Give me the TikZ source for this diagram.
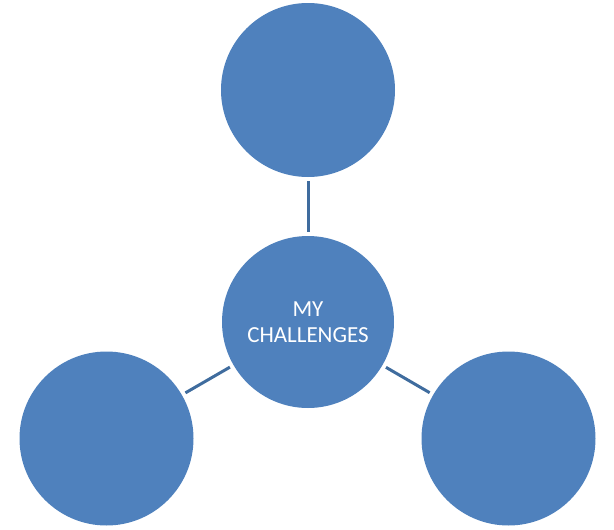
\documentclass[tikz,border=0pt]{standalone}
\usepackage{fontspec}
\setmainfont{Carlito}
\definecolor{circblue}{HTML}{4F81BD}
\definecolor{linkblue}{HTML}{3F6C9E}
\begin{document}
\begin{tikzpicture}[x=1pt,y=-1pt,
  bubble/.style={circle,fill=circblue,minimum size=174pt,inner sep=0pt,text=white,
    align=center,font=\fontsize{23}{25.5}\selectfont},
  link/.style={draw=linkblue,line width=3pt,shorten <=4pt,shorten >=4pt}]
\useasboundingbox (0,0) rectangle (614,530);
\node[bubble] (top) at (308,90) {};
\node[bubble,minimum size=172pt] (c) at (308,322) {MY\\CHALLENGES};
\node[bubble] (bl) at (106.5,438.5) {};
\node[bubble] (br) at (508.5,438.5) {};
\draw[link] (c) -- (top);
\draw[link] (c) -- (bl);
\draw[link] (c) -- (br);
\end{tikzpicture}
\end{document}
